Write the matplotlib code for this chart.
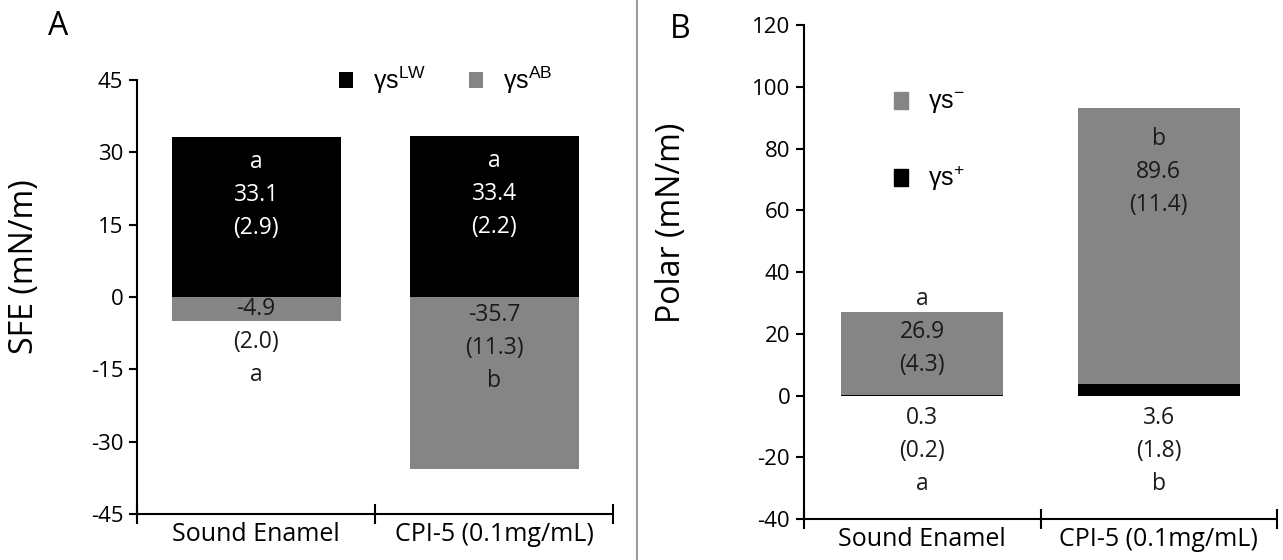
import matplotlib
matplotlib.use('Agg')
import matplotlib.pyplot as plt
from matplotlib.patches import Patch
from matplotlib.lines import Line2D

plt.rcParams['font.family'] = ['Open Sans', 'DejaVu Sans']
plt.rcParams['mathtext.fontset'] = 'custom'
plt.rcParams['mathtext.rm'] = 'Liberation Sans'
plt.rcParams['axes.unicode_minus'] = False

GRIS = '#858585'
NEGRO = '#000000'
TEXTO = '#1a1a1a'

categories = ['Sound Enamel', 'CPI-5 (0.1mg/mL)']

# panel A - SFE components
sfe_lw = [33.1, 33.4]
sfe_lw_sd = [2.9, 2.2]
sfe_lw_grp = ['a', 'a']
sfe_ab = [-4.9, -35.7]
sfe_ab_sd = [2.0, 11.3]
sfe_ab_grp = ['a', 'b']

# panel B - polar components
pol_plus = [0.3, 3.6]
pol_plus_sd = [0.2, 1.8]
pol_plus_grp = ['a', 'b']
pol_minus = [26.9, 89.6]
pol_minus_sd = [4.3, 11.4]
pol_minus_grp = ['a', 'b']

x = [0.5, 1.5]
LBL = dict(ha='center', va='center', fontsize=16.5, linespacing=1.5)

fig = plt.figure(figsize=(12.83, 5.6), dpi=100)
axA = fig.add_axes([0.1068, 0.0821, 0.371, 0.775])
axB = fig.add_axes([0.6267, 0.0732, 0.3687, 0.882])


def style_axis(ax, ylo, yhi, step):
    ax.set_xlim(0, 2)
    ax.set_ylim(ylo, yhi)
    ax.set_yticks(range(ylo, yhi + 1, step))
    for s in ['top', 'right']:
        ax.spines[s].set_visible(False)
    for s in ['left', 'bottom']:
        ax.spines[s].set_linewidth(1.5)
    ax.set_xticks([0, 1, 2])
    ax.set_xticklabels(['', '', ''])
    ax.set_xticks(x, minor=True)
    ax.set_xticklabels(categories, minor=True)
    ax.tick_params(axis='x', which='major', direction='inout', length=15, width=1.5)
    ax.tick_params(axis='x', which='minor', length=0, pad=6, labelsize=18)
    ax.tick_params(axis='y', direction='out', length=6, width=1.5, pad=4, labelsize=16)


# ---- Panel A ----
axA.bar(x, sfe_lw, width=0.71, color=NEGRO, label=r'γs$^{\mathrm{LW}}$')
axA.bar(x, sfe_ab, width=0.71, color=GRIS, label=r'γs$^{\mathrm{AB}}$')
style_axis(axA, -45, 45, 15)
axA.set_ylabel('SFE (mN/m)', fontsize=23, va='center')
axA.yaxis.set_label_coords(-0.237, 0.569)

for i in range(2):
    axA.text(x[i], sfe_lw[i] - 12, f'{sfe_lw_grp[i]}\n{sfe_lw[i]}\n({sfe_lw_sd[i]})',
             color='white', **LBL)
for i, yy in enumerate([-9.3, -10.6]):
    axA.text(x[i], yy, f'{sfe_ab[i]}\n({sfe_ab_sd[i]})\n{sfe_ab_grp[i]}',
             color=TEXTO, **LBL)

axA.legend(loc='center left', bbox_to_anchor=(0.425, 1.0), ncol=2,
           frameon=False, prop={'family': 'Liberation Sans', 'size': 18},
           handlelength=0.55, handleheight=0.65, handletextpad=0.8,
           columnspacing=1.7, borderpad=0, borderaxespad=0)

# ---- Panel B ----
axB.bar(x, pol_plus, width=0.685, color=NEGRO)
axB.bar(x, pol_minus, width=0.685, bottom=pol_plus, color=GRIS)
style_axis(axB, -40, 120, 20)
axB.set_ylabel('Polar (mN/m)', fontsize=23, va='center')
axB.yaxis.set_label_coords(-0.281, 0.599)

for i, yy in enumerate([20.5, 72.5]):
    axB.text(x[i], yy, f'{pol_minus_grp[i]}\n{pol_minus[i]}\n({pol_minus_sd[i]})',
             color=TEXTO, **LBL)
for i in range(2):
    axB.text(x[i], -18, f'{pol_plus[i]}\n({pol_plus_sd[i]})\n{pol_plus_grp[i]}',
             color=TEXTO, **LBL)

handlesB = [Patch(color=GRIS, label=r'γs$^{-}$'), Patch(color=NEGRO, label=r'γs$^{+}$')]
axB.legend(handles=handlesB, loc='center left', bbox_to_anchor=(0.19, 0.764),
           frameon=False, prop={'family': 'Liberation Sans', 'size': 18},
           handlelength=0.55, handleheight=0.65, handletextpad=0.8,
           labelspacing=1.9, borderpad=0, borderaxespad=0)

# panel letters and divider
fig.text(0.045, 0.952, 'A', fontsize=23, ha='center', va='center')
fig.text(0.530, 0.948, 'B', fontsize=23, ha='center', va='center')
fig.add_artist(Line2D([637 / 1283, 637 / 1283], [0, 1], transform=fig.transFigure,
                      color='#9a9a9a', lw=1.5))

fig.savefig('out.png', dpi=100)
